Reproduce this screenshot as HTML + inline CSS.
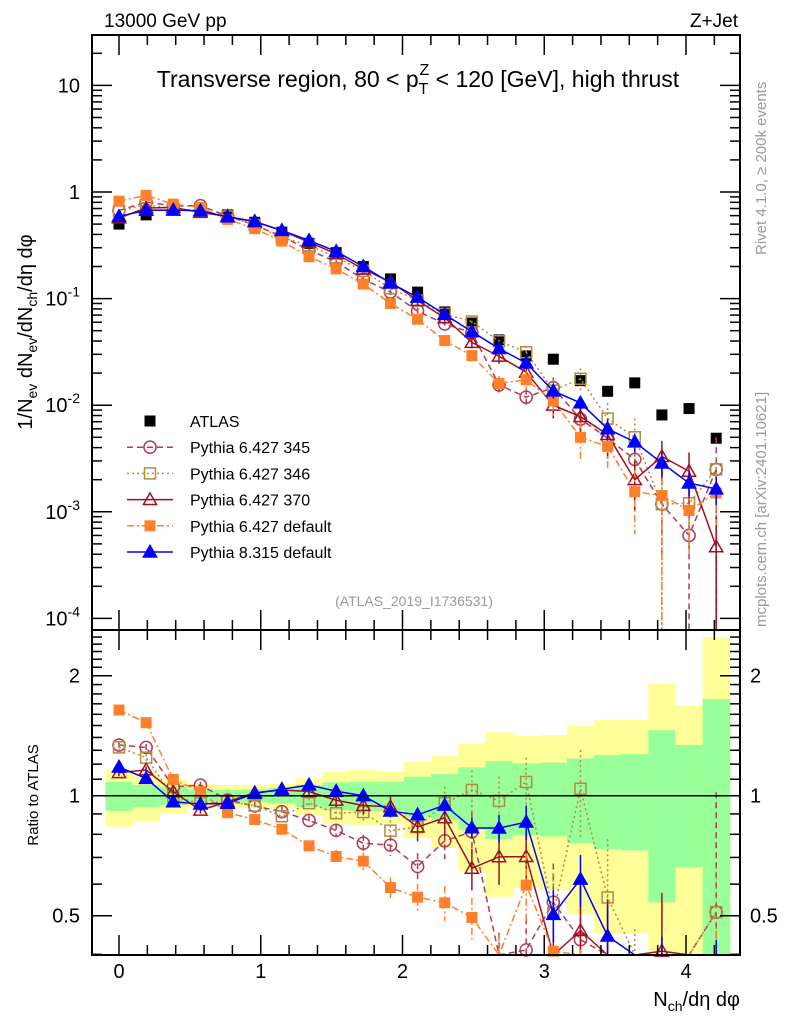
<!DOCTYPE html>
<html><head><meta charset="utf-8"><style>
body{margin:0;background:#fff;}
svg{display:block;font-family:"Liberation Sans",sans-serif;}
</style></head><body>
<svg id="chart" width="786" height="1024" viewBox="0 0 786 1024" xmlns="http://www.w3.org/2000/svg">
<g id="ratioBands"></g>
<g id="mainMarks"></g>
<g id="ratioMarks"></g>
<g id="axes"></g>
<text x="104" y="27" font-size="19">13000 GeV pp</text>
<text x="738" y="27" font-size="19" text-anchor="end">Z+Jet</text>
<text x="418" y="87" font-size="23" text-anchor="middle">Transverse region, 80 &lt; p<tspan font-size="16" dy="7">T</tspan><tspan font-size="16" dx="-9" dy="-19">Z</tspan><tspan dy="12"> &lt; 120 [GeV], high thrust</tspan></text>
<text x="414" y="606" font-size="14" fill="#999" text-anchor="middle">(ATLAS_2019_I1736531)</text>
<text transform="translate(766,255) rotate(-90)" font-size="15" fill="#999">Rivet 4.1.0, ≥ 200k events</text>
<text transform="translate(766,627) rotate(-90)" font-size="15" fill="#999">mcplots.cern.ch [arXiv:2401.10621]</text>
<text transform="translate(32,332) rotate(-90)" font-size="20" text-anchor="middle">1/N<tspan font-size="14" dy="5">ev</tspan><tspan dy="-5"> dN</tspan><tspan font-size="14" dy="5">ev</tspan><tspan dy="-5">/dN</tspan><tspan font-size="14" dy="5">ch</tspan><tspan dy="-5">/dη dφ</tspan></text>
<text transform="translate(38,795) rotate(-90)" font-size="15" text-anchor="middle">Ratio to ATLAS</text>
<text x="740" y="1006" font-size="20" text-anchor="end">N<tspan font-size="14" dy="5">ch</tspan><tspan dy="-5">/dη dφ</tspan></text>
<g id="legend"></g>
</svg>
<script>
const xVals=[0,0.1915,0.383,0.5745,0.766,0.9575,1.149,1.3405,1.532,1.7235,1.915,2.1065,2.298,2.4895,2.681,2.8725,3.064,3.2555,3.447,3.6385,3.83,4.0215,4.213];
const atlas=[0.50,0.61,0.70,0.70,0.61,0.52,0.42,0.33,0.27,0.20,0.153,0.115,0.075,0.059,0.041,0.029,0.027,0.017,0.0135,0.0162,0.0081,0.0093,0.0049];
const bandOuter=[0.164,0.138,0.095,0.070,0.064,0.064,0.070,0.105,0.149,0.160,0.149,0.217,0.26,0.353,0.442,0.412,0.42,0.496,0.548,0.548,0.913,0.685,1.5];
const bandInner=[0.084,0.064,0.053,0.037,0.033,0.037,0.045,0.064,0.080,0.084,0.084,0.116,0.133,0.178,0.222,0.205,0.21,0.24,0.265,0.272,0.46,0.34,0.748];
const p345=[0.67,0.806,0.737,0.744,0.595,0.49,0.383,0.286,0.221,0.152,0.115,0.0764,0.0578,0.0479,0.0155,0.0119,0.0146,0.0074,0.0049,0.0031,0.00118,0.0006,0.0025];
const p346=[0.661,0.76,0.696,0.67,0.589,0.491,0.373,0.316,0.244,0.182,0.125,0.096,0.0718,0.061,0.0398,0.0314,0.0137,0.0177,0.0075,0.005,0.00118,0.0012,0.0025];
const p370=[0.571,0.708,0.716,0.644,0.589,0.529,0.434,0.338,0.263,0.189,0.1435,0.096,0.066,0.0388,0.0288,0.0204,0.0100,0.0078,0.0053,0.0020,0.0033,0.0024,0.00047];
const p6def=[0.82,0.93,0.769,0.716,0.553,0.453,0.346,0.247,0.19,0.137,0.090,0.064,0.0404,0.0292,0.016,0.0173,0.011,0.005,0.0041,0.00154,0.00142,0.00103,0.0015];
const p8def=[0.59,0.674,0.676,0.667,0.584,0.527,0.436,0.351,0.277,0.2,0.14,0.103,0.071,0.049,0.034,0.0249,0.0136,0.0105,0.006,0.00452,0.00287,0.00186,0.00164];
const err345=[0.02,0.02,0.02,0.02,0.02,0.03,0.03,0.03,0.04,0.05,0.06,0.08,0.1,0.12,0.2,0.2,0.25,0.35,0.4,0.5,0.7,1.0,1.0];
const err346=[0.02,0.02,0.02,0.02,0.02,0.03,0.03,0.03,0.04,0.05,0.06,0.08,0.1,0.12,0.15,0.15,0.25,0.25,0.4,0.5,1.0,0.6,0.3];
const err370=[0.02,0.02,0.02,0.02,0.02,0.03,0.03,0.03,0.04,0.05,0.06,0.08,0.1,0.12,0.15,0.15,0.25,0.3,0.4,0.5,0.4,0.5,1.0];
const err6def=[0.02,0.02,0.02,0.02,0.02,0.03,0.03,0.03,0.04,0.05,0.06,0.08,0.1,0.12,0.15,0.2,0.3,0.4,0.4,0.6,1.0,0.6,0.5];
const err8def=[0.01,0.01,0.01,0.01,0.01,0.02,0.02,0.02,0.02,0.03,0.03,0.04,0.05,0.06,0.08,0.1,0.15,0.15,0.2,0.2,0.25,0.25,0.3];
const series=[
 {name:"Pythia 6.427 345",vals:p345,err:err345,color:"#b23a55",dash:"6,4",marker:"circle"},
 {name:"Pythia 6.427 346",vals:p346,err:err346,color:"#b08c40",dash:"2,3",marker:"osquare"},
 {name:"Pythia 6.427 370",vals:p370,err:err370,color:"#a01020",dash:"",marker:"otri"},
 {name:"Pythia 6.427 default",vals:p6def,err:err6def,color:"#ff7f2a",dash:"7,3,2,3",marker:"fsquare"},
 {name:"Pythia 8.315 default",vals:p8def,err:err8def,color:"#0000ff",dash:"",marker:"ftri"}
];
const yTickMain=[10,1,0.1,0.01,0.001,0.0001];
const yTickMainLbl=["10","1","10^-1","10^-2","10^-3","10^-4"];
const ratioTicks=[2,1,0.5];
const xTicks=[0,1,2,3,4];

const L=92,R=740,T=35,MB=630,RB=955;
const NS="http://www.w3.org/2000/svg";
function X(x){return 119+x*141.75;}
function Ym(v){return 192-106.6*Math.log10(v);}
function Yr(r){return 795.7-120*Math.log2(r);}
function el(tag,attrs,parent){const e=document.createElementNS(NS,tag);for(const k in attrs)e.setAttribute(k,attrs[k]);parent.appendChild(e);return e;}
const clampM=y=>Math.max(T,Math.min(MB,y));
const clampR=y=>Math.max(MB,Math.min(RB,y));

const bands=document.getElementById('ratioBands');
xVals.forEach((x,i)=>{
  const x0=X(x)-0.09575*141.75,w=0.1915*141.75;
  [[bandOuter,"#ffff99"],[bandInner,"#99ff99"]].forEach(([b,c])=>{
    const up=clampR(Yr(1+b[i])),lo=b[i]>=0.99?RB:clampR(Yr(1-b[i]));
    const r=el('rect',{x:x0,y:up,width:w+0.5,height:lo-up,fill:c},bands);
    
    
  });
});

function marker(g,type,cx,cy,color,s){
  let m;
  if(type==="circle")m=el('circle',{cx:cx,cy:cy,r:s*0.55,fill:"none",stroke:color,"stroke-width":1.5},g);
  else if(type==="osquare")m=el('rect',{x:cx-s/2,y:cy-s/2,width:s,height:s,fill:"none",stroke:color,"stroke-width":1.5},g);
  else if(type==="fsquare")m=el('rect',{x:cx-s/2,y:cy-s/2,width:s,height:s,fill:color},g);
  else if(type==="bsquare")m=el('rect',{x:cx-s/2,y:cy-s/2,width:s,height:s,fill:"#000"},g);
  else{const h=s*0.6;m=el('polygon',{points:`${cx},${cy-h} ${cx-h},${cy+h*0.75} ${cx+h},${cy+h*0.75}`,fill:type==="ftri"?color:"none",stroke:color,"stroke-width":1.5},g);}
  return m;
}

const mainG=document.getElementById('mainMarks'),ratioG=document.getElementById('ratioMarks');
xVals.forEach((x,i)=>{
  const m=marker(mainG,"bsquare",X(x),Ym(atlas[i]),"#000",11);
  
  
});
series.forEach((s,si)=>{
  const gm=el('g',{},mainG);
  
  
  const gr=el('g',{},ratioG);
  
  
  const pm=xVals.map((x,i)=>X(x)+","+clampM(Ym(s.vals[i]))).join(" ");
  el('polyline',{points:pm,fill:"none",stroke:s.color,"stroke-width":1.5,"stroke-dasharray":s.dash},gm);
  const pr=xVals.map((x,i)=>X(x)+","+clampR(Yr(s.vals[i]/atlas[i]))).join(" ");
  el('polyline',{points:pr,fill:"none",stroke:s.color,"stroke-width":1.5,"stroke-dasharray":s.dash},gr);
  xVals.forEach((x,i)=>{
    const v=s.vals[i],e=s.err[i],cx=X(x);
    const up=v*(1+e),lo=v*(1-e);
    const y1=clampM(Ym(up)),y2=lo<=0?MB:clampM(Ym(lo));
    el('line',{x1:cx,x2:cx,y1:y1,y2:y2,stroke:s.color,"stroke-width":1.5,"stroke-dasharray":s.dash},gm);
    const r=v/atlas[i];
    const ry1=clampR(Yr(r*(1+e))),ry2=lo<=0?RB:clampR(Yr(r*(1-e)));
    el('line',{x1:cx,x2:cx,y1:ry1,y2:ry2,stroke:s.color,"stroke-width":1.5,"stroke-dasharray":s.dash},gr);
    const my=Ym(v);
    if(my>=T&&my<=MB){const m=marker(gm,s.marker,cx,my,s.color,11);
      
      }
    const ry=Yr(r);
    if(ry>=MB&&ry<=RB){const m=marker(gr,s.marker,cx,ry,s.color,11);
      
      }
  });
});

const ax=document.getElementById('axes');
el('rect',{x:L,y:T,width:R-L,height:MB-T,fill:"none",stroke:"#000","stroke-width":2},ax);
el('rect',{x:L,y:MB,width:R-L,height:RB-MB,fill:"none",stroke:"#000","stroke-width":2},ax);
el('line',{x1:L,x2:R,y1:Yr(1),y2:Yr(1),stroke:"#000","stroke-width":1.5},ax);
for(let d=-4;d<=1;d++){
  for(let k=1;k<10;k++){
    const y=Ym(k*Math.pow(10,d));
    if(y<T||y>MB)continue;
    const len=k===1?20:10;
    el('line',{x1:L,x2:L+len,y1:y,y2:y,stroke:"#000","stroke-width":1.5},ax);
    el('line',{x1:R-len,x2:R,y1:y,y2:y,stroke:"#000","stroke-width":1.5},ax);
  }
}
yTickMain.forEach((v,i)=>{
  const y=Ym(v),lbl=yTickMainLbl[i];
  const t=el('text',{x:80,y:y+7,"font-size":20,"text-anchor":"end"},ax);
  
  
  if(lbl.includes("^")){const [b,p]=lbl.split("^");t.textContent=b;const ts=el('tspan',{dy:-9,"font-size":14},t);ts.textContent=p;}
  else t.textContent=lbl;
});
for(let r=0.4;r<=2.6;r+=0.1){
  const y=Yr(r);if(y<MB||y>RB)continue;
  const maj=Math.abs(r-0.5)<1e-6||Math.abs(r-1)<1e-6||Math.abs(r-2)<1e-6;
  const len=maj?20:10;
  el('line',{x1:L,x2:L+len,y1:y,y2:y,stroke:"#000","stroke-width":1.5},ax);
  el('line',{x1:R-len,x2:R,y1:y,y2:y,stroke:"#000","stroke-width":1.5},ax);
}
ratioTicks.forEach(r=>{
  const y=Yr(r);
  const t1=el('text',{x:80,y:y+7,"font-size":20,"text-anchor":"end"},ax);t1.textContent=String(r);
  
  
  const t2=el('text',{x:750,y:y+7,"font-size":20},ax);t2.textContent=String(r);
  
  
});
for(let i=-1;i<=22;i++){
  const xv=i*0.2;const x=X(xv);if(x<L||x>R)continue;
  const maj=i%5===0,len=maj?20:10;
  [[MB,-1],[T,1],[RB,-1],[MB,1]].forEach(([y0,dir])=>{
    el('line',{x1:x,x2:x,y1:y0,y2:y0+dir*len,stroke:"#000","stroke-width":1.5},ax);
  });
}
xTicks.forEach(v=>{
  const t=el('text',{x:X(v),y:978,"font-size":20,"text-anchor":"middle"},ax);t.textContent=String(v);
  
  
});

const lg=document.getElementById('legend');
const entries=[{name:"ATLAS",color:"#000",dash:"",marker:"bsquare",line:false}].concat(series.map(s=>({...s,line:true})));
entries.forEach((e,i)=>{
  const y=421+i*26.2;
  const g=el('g',{},lg);
  
  
  if(e.line)el('line',{x1:127,x2:173,y1:y,y2:y,stroke:e.color,"stroke-width":1.5,"stroke-dasharray":e.dash},g);
  marker(g,e.marker,150,y,e.color,11);
  const t=el('text',{x:190,y:y+6,"font-size":16},g);t.textContent=e.name;
});
</script>
</body></html>
